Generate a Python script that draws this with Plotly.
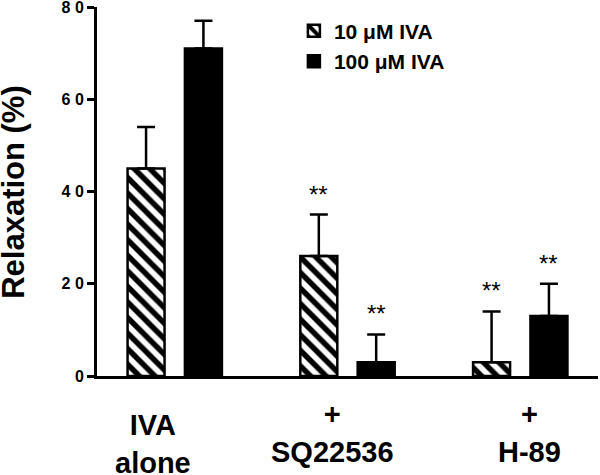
import plotly.graph_objects as go

# ---- data ----
groups = [0, 1, 2]
group_labels = ["IVA<br>alone", "+<br>SQ22536", "+<br>H-89"]
series_names = ["10 \u03bcM IVA", "100 \u03bcM IVA"]
iva10_mean = [45, 26, 3]
iva10_err = [9, 9, 11]
iva100_mean = [71, 3, 13]
iva100_err = [6, 6, 7]
iva10_sig = ["", "**", "**"]
iva100_sig = ["", "**", "**"]
y_tickvals = [0, 20, 40, 60, 80]
y_ticktext = ["0", "2 0", "4 0", "6 0", "8 0"]
y_title = "Relaxation (%)"

# ---- style ----
FONT = "Liberation Sans, Arial, sans-serif"
label_xshift = [-22, -15, 9]
label_yshift = [-31, -20, -20]

fig = go.Figure()
fig.add_trace(go.Bar(
    x=groups, y=iva10_mean, name=series_names[0],
    marker=dict(color="white", line=dict(color="black", width=2.5),
                pattern=dict(shape="\\", fgcolor="black", bgcolor="white",
                             fgopacity=1, size=11, solidity=0.5)),
    error_y=dict(type="data", symmetric=False, array=iva10_err,
                 arrayminus=[0] * len(iva10_err), color="black",
                 thickness=2.5, width=9),
))
fig.add_trace(go.Bar(
    x=groups, y=iva100_mean, name=series_names[1],
    marker=dict(color="black", line=dict(color="black", width=2.5)),
    error_y=dict(type="data", symmetric=False, array=iva100_err,
                 arrayminus=[0] * len(iva100_err), color="black",
                 thickness=2.5, width=9),
))

annotations = []
# significance markers
for means, errs, sig, off in [(iva10_mean, iva10_err, iva10_sig, -0.166),
                              (iva100_mean, iva100_err, iva100_sig, 0.166)]:
    for g, m, e, s in zip(groups, means, errs, sig):
        if s:
            annotations.append(dict(x=g + off, y=m + e, xref="x", yref="y",
                                    text=s, showarrow=False, yanchor="bottom",
                                    yshift=5,
                                    font=dict(family=FONT, size=24, color="black")))
# category labels
for g, lab, xs, ys in zip(groups, group_labels, label_xshift, label_yshift):
    annotations.append(dict(x=g, y=0, xref="x", yref="paper", text=lab,
                            showarrow=False, yanchor="top", xanchor="center",
                            xshift=xs, yshift=ys,
                            font=dict(family=FONT, size=29, color="black",
                                      weight="bold")))
# y title
annotations.append(dict(x=-0.167, y=0.5, xref="paper", yref="paper",
                        text=y_title, textangle=-90, showarrow=False,
                        xanchor="center", yanchor="middle",
                        font=dict(family=FONT, size=31, color="black",
                                  weight="bold")))

fig.update_layout(
    width=600, height=475,
    margin=dict(l=97, r=2, t=7, b=99, autoexpand=False),
    paper_bgcolor="white", plot_bgcolor="white",
    barmode="group", bargap=0.336, bargroupgap=0.355,
    showlegend=True,
    legend=dict(x=0.393, y=0.99, xanchor="left", yanchor="top",
                font=dict(family=FONT, size=21, color="black", weight="bold"),
                bgcolor="rgba(0,0,0,0)", tracegroupgap=0),
    annotations=annotations,
    xaxis=dict(range=[-0.45, 2.45], showticklabels=False, ticks="",
               showline=True, linecolor="black", linewidth=3, automargin=False,
               showgrid=False, zeroline=False, fixedrange=True),
    yaxis=dict(range=[0, 80], tickvals=y_tickvals, ticktext=y_ticktext,
               ticks="outside", ticklen=7, tickwidth=3, tickcolor="black",
               showline=True, linecolor="black", linewidth=3, automargin=False,
               ticklabeloverflow="allow",
               showgrid=False, zeroline=False,
               tickfont=dict(family=FONT, size=16, color="black", weight="bold")),
)

fig.write_html("out.html", config={"displayModeBar": False},
               post_script="document.body.style.margin='0';")
